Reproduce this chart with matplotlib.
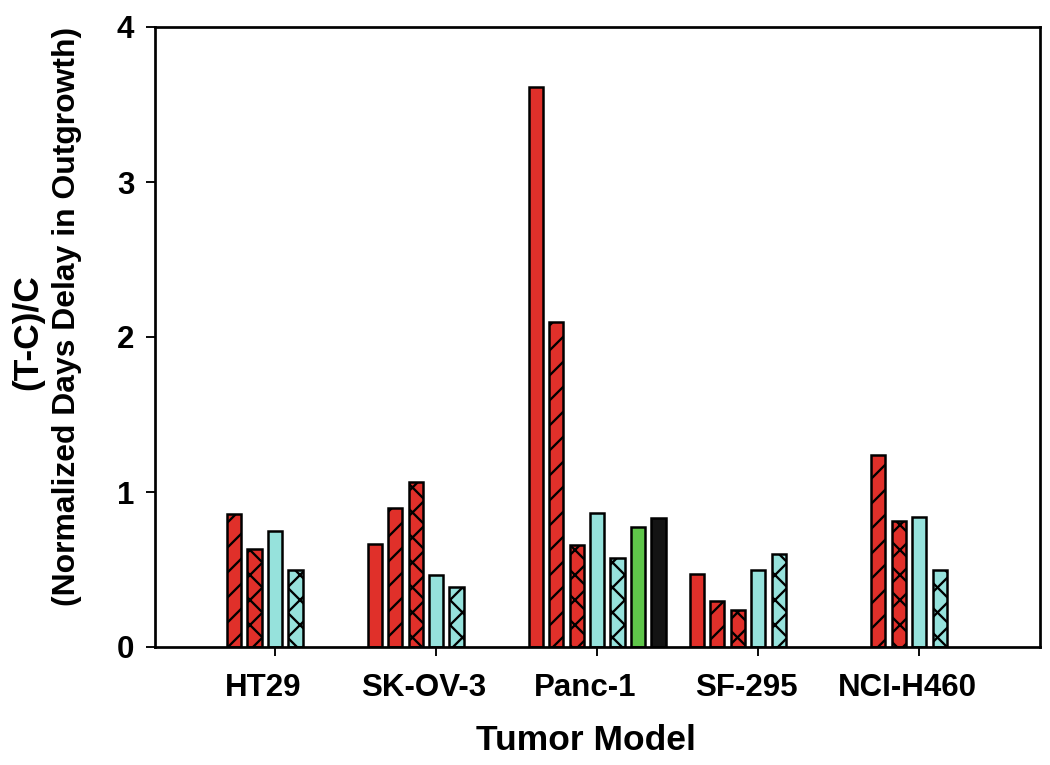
import numpy as np
import matplotlib
matplotlib.use("Agg")
import matplotlib.pyplot as plt
import matplotlib.transforms as mtransforms

# data (nan = no bar for that model)
models = ["HT29", "SK-OV-3", "Panc-1", "SF-295", "NCI-H460"]
red_plain = [np.nan, 0.665, 3.61, 0.47, np.nan]
red_diag = [0.86, 0.90, 2.10, 0.30, 1.24]
red_cross = [0.63, 1.065, 0.66, 0.24, 0.81]
cyan_plain = [0.75, 0.465, 0.865, 0.50, 0.84]
cyan_cross = [0.50, 0.39, 0.575, 0.60, 0.50]
green = [np.nan, np.nan, 0.775, np.nan, np.nan]
black = [np.nan, np.nan, 0.83, np.nan, np.nan]

RED = "#e0302a"
CYAN = "#96e2dc"
GREEN = "#5fc64a"
BLK = "#141414"

series = [
    (red_plain, RED, ""),
    (red_diag, RED, "//"),
    (red_cross, RED, "xx"),
    (cyan_plain, CYAN, ""),
    (cyan_cross, CYAN, "xx"),
    (green, GREEN, ""),
    (black, BLK, ""),
]

plt.rcParams["font.family"] = ["Liberation Sans", "DejaVu Sans"]
plt.rcParams["hatch.linewidth"] = 1.1
plt.rcParams["hatch.color"] = "black"

fig = plt.figure(figsize=(7.0, 5.1), dpi=150)
ax = fig.add_axes([155 / 1050, 1 - 647 / 765, (1040 - 155) / 1050, (647 - 27) / 765])

x = np.arange(len(models))
slot = 0.127
bw = 0.088
for k, (vals, col, hatch) in enumerate(series):
    vals = np.array(vals, dtype=float)
    m = ~np.isnan(vals)
    ax.bar(x[m] + (k - 3) * slot, vals[m], width=bw, color=col,
           edgecolor="black", linewidth=1.2, hatch=hatch, zorder=2)

ax.set_xlim(-0.745, 4.75)
ax.set_ylim(0, 4)
ax.set_xticks(x)
ax.set_xticklabels(models, fontsize=15, fontweight="bold")
ax.set_yticks([0, 1, 2, 3, 4])
ax.set_yticklabels(["0", "1", "2", "3", "4"], fontsize=15, fontweight="bold")
ax.tick_params(axis="x", direction="out", length=4.5, width=0.9, pad=8)
ax.tick_params(axis="y", direction="out", length=4.5, width=0.9, pad=5.5)

# x labels sit a little left of the ticks in the original
shift = mtransforms.ScaledTranslation(-12 / 150, 0, fig.dpi_scale_trans)
for lab in ax.get_xticklabels():
    lab.set_transform(lab.get_transform() + shift)

for sp in ax.spines.values():
    sp.set_linewidth(1.3)

fig.text(586 / 1050, 1 - 750 / 765, "Tumor Model", ha="center", va="baseline",
         fontsize=17, fontweight="bold")
fig.text(28 / 1050, 1 - 332 / 765, "(T-C)/C", rotation=90, ha="center", va="center",
         fontsize=17, fontweight="bold")
fig.text(67 / 1050, 1 - 316 / 765, "(Normalized Days Delay in Outgrowth)", rotation=90,
         ha="center", va="center", fontsize=15.3, fontweight="bold")

fig.savefig("out.png", dpi=150)
